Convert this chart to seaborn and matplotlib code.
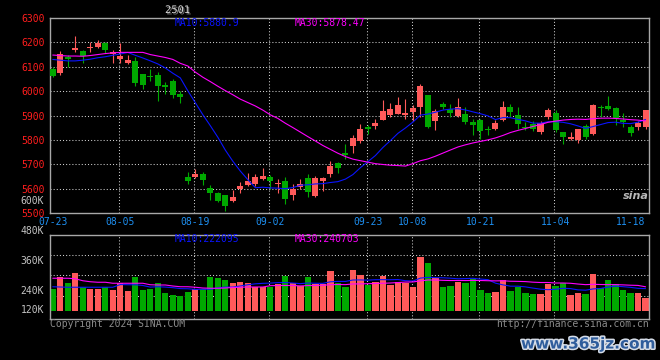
import numpy as np
import pandas as pd
import matplotlib
matplotlib.use("Agg")
import matplotlib.pyplot as plt
import matplotlib.patheffects as pe
import seaborn as sns

# daily bars, 07-23 .. 11-20 (80 trading days)
open_ = [6090, 6073, 6141, 6168, 6164, 6178, 6182, 6196, 6151, 6131,
         6114, 6123, 6070, 6063, 6066, 6025, 6041, 5990, 5647, 5647,
         5658, 5604, 5583, 5572, 5551, 5597, 5616, 5620, 5641, 5647,
         5618, 5630, 5572, 5606, 5645, 5569, 5630, 5658, 5705, 5746,
         5774, 5795, 5853, 5857, 5880, 5901, 5908, 5904, 5915, 5935,
         5983, 5878, 5946, 5925, 5898, 5905, 5874, 5883, 5846, 5846,
         5883, 5933, 5901, 5853, 5864, 5832, 5894, 5911, 5832, 5805,
         5798, 5857, 5826, 5933, 5939, 5931, 5880, 5853, 5853, 5851]
high = [6100, 6164, 6148, 6227, 6168, 6200, 6209, 6203, 6168, 6196,
        6148, 6141, 6070, 6090, 6079, 6038, 6049, 5999, 5668, 5682,
        5668, 5616, 5588, 5575, 5593, 5627, 5665, 5661, 5684, 5654,
        5638, 5647, 5620, 5638, 5661, 5653, 5647, 5712, 5709, 5782,
        5822, 5864, 5860, 5885, 5963, 5953, 5974, 5966, 5942, 6028,
        5983, 5925, 5956, 5946, 5970, 5935, 5887, 5887, 5856, 5880,
        5959, 5946, 5933, 5873, 5878, 5876, 5929, 5922, 5832, 5832,
        5846, 5867, 5949, 5942, 5979, 5935, 5912, 5863, 5876, 5924]
low = [6060, 6066, 6100, 6159, 6114, 6159, 6178, 6157, 6116, 6114,
       6111, 6020, 6008, 6041, 5960, 5990, 5970, 5952, 5617, 5645,
       5613, 5555, 5544, 5510, 5544, 5583, 5610, 5609, 5634, 5600,
       5581, 5535, 5555, 5597, 5565, 5566, 5590, 5647, 5664, 5720,
       5746, 5787, 5826, 5844, 5880, 5894, 5908, 5885, 5878, 5894,
       5850, 5839, 5925, 5894, 5894, 5864, 5822, 5805, 5819, 5839,
       5876, 5894, 5846, 5839, 5836, 5826, 5887, 5832, 5784, 5798,
       5789, 5805, 5822, 5894, 5922, 5860, 5853, 5816, 5839, 5843]
close = [6063, 6152, 6133, 6175, 6146, 6182, 6198, 6168, 6161, 6145,
         6127, 6034, 6024, 6057, 6020, 6015, 5983, 5976, 5631, 5658,
         5634, 5582, 5551, 5528, 5565, 5610, 5631, 5647, 5651, 5631,
         5624, 5558, 5600, 5620, 5586, 5645, 5643, 5693, 5686, 5736,
         5809, 5843, 5846, 5871, 5917, 5926, 5942, 5912, 5929, 6020,
         5853, 5919, 5933, 5911, 5935, 5874, 5863, 5836, 5839, 5871,
         5933, 5915, 5864, 5849, 5844, 5871, 5922, 5839, 5812, 5812,
         5844, 5812, 5942, 5929, 5926, 5888, 5874, 5828, 5871, 5922]
# volume in thousands
volume = [248, 297, 273, 313, 257, 248, 248, 257, 244, 273,
          240, 297, 244, 248, 273, 233, 224, 220, 237, 248,
          248, 297, 293, 284, 273, 277, 273, 257, 257, 257,
          267, 301, 273, 260, 297, 268, 268, 321, 271, 257,
          324, 304, 264, 277, 300, 264, 277, 273, 257, 377,
          353, 293, 257, 261, 277, 271, 288, 244, 233, 237,
          284, 241, 257, 233, 228, 228, 268, 260, 273, 224,
          233, 228, 308, 251, 284, 268, 244, 233, 233, 213]

# moving-average values before enough bars exist
ma10_lead = [6130, 6127, 6124, 6124, 6127, 6131, 6137, 6141, 6147]
ma30_lead = [6148, 6146, 6144, 6144, 6143, 6146, 6150, 6154, 6157, 6159,
             6159, 6159, 6159, 6150, 6144, 6138, 6130, 6114, 6103, 6078,
             6057, 6039, 6020, 6002, 5985, 5967, 5953, 5939, 5922]
vma10_lead = [257, 256, 255, 255, 255, 255, 255, 255, 255]
vma30_lead = [291, 291, 291, 289, 281, 277, 275, 275, 271, 271,
              271, 271, 271, 265, 264, 264, 260, 257, 257, 255,
              252, 251, 251, 252, 254, 255, 256, 256, 256]

tick_idx = [0, 9, 19, 29, 42, 48, 57, 67, 77]
tick_dates = ["07-23", "08-05", "08-19", "09-02", "09-23",
              "10-08", "10-21", "11-04", "11-18"]
price_ticks = [5500, 5600, 5700, 5800, 5900, 6000, 6100, 6200, 6300]
vol_labels = ["120K", "240K", "360K", "480K", "600K"]
vol_label_pos = [164, 240, 360, 480, 600]

sns.set_theme(style="dark", rc={"axes.facecolor": "black",
                                "figure.facecolor": "black"})
plt.rcParams["font.family"] = ["DejaVu Sans Mono"]

UP = "#ff5a5a"
DOWN = "#00a800"
BLUE = "#0a14ff"
MAG = "#ff00ff"
GRID = "#cfcfcf"
BORDER = "#a8a8a8"
DATE_C = "#1e8ff0"

o = np.array(open_, float)
c = np.array(close, float)
h = np.array(high, float)
l = np.array(low, float)
v = np.array(volume, float)
idx = np.arange(len(c))
colors = np.where(c >= o, UP, DOWN)

ma10 = pd.Series(c).rolling(10).mean().to_numpy()
ma10[:9] = ma10_lead
ma30 = pd.Series(c).rolling(30).mean().to_numpy()
ma30[:29] = ma30_lead
vma10 = pd.Series(v).rolling(10).mean().to_numpy()
vma10[:9] = vma10_lead
vma30 = pd.Series(v).rolling(30).mean().to_numpy()
vma30[:29] = vma30_lead

fig = plt.figure(figsize=(6.6, 3.6), dpi=100)
W, H = 660, 360
xlim = (-0.37, 79.46)
grid_idx = tick_idx[1:-1]
dotted = (0, (1, 2))

# ---- price panel
ax = fig.add_axes([50 / W, 1 - 213 / H, 599 / W, 195 / H])
ax.set_xlim(*xlim)
ax.set_ylim(5500, 6300)

for y in price_ticks[1:-1]:
    ax.axhline(y, color=GRID, lw=0.75, ls=dotted, zorder=0)
for x in grid_idx:
    ax.axvline(x - 0.15, color=GRID, lw=0.75, ls=dotted, zorder=0)

ax.vlines(idx, l, h, color=colors, lw=0.8, zorder=2)
body_lo = np.minimum(o, c)
body_h = np.maximum(np.abs(c - o), 4)
ax.bar(idx, body_h, bottom=body_lo, width=0.8, color=colors, lw=0, zorder=3)

sns.lineplot(x=idx, y=ma10, ax=ax, color=BLUE, lw=0.8, zorder=4)
sns.lineplot(x=idx, y=ma30, ax=ax, color=MAG, lw=0.8, zorder=4)

ax.set_yticks(price_ticks)
ax.set_yticklabels([str(t) for t in price_ticks])
ax.set_xticks(tick_idx)
ax.set_xticklabels(tick_dates)
ax.tick_params(axis="y", length=0, pad=4, labelcolor="#ff1e1e", labelsize=7)
ax.tick_params(axis="x", length=0, pad=3, labelcolor=DATE_C, labelsize=7)
ax.grid(False)
ax.set_xlabel("")
ax.set_ylabel("")
for s in ax.spines.values():
    s.set_visible(True)
    s.set_color(BORDER)
    s.set_linewidth(1)

# ---- volume panel
ax2 = fig.add_axes([50 / W, 1 - 319 / H, 599 / W, 84 / H])
ax2.set_xlim(*xlim)
ax2.set_ylim(128, 464)
for y in [220, 304, 384]:
    ax2.axhline(y, color=GRID, lw=0.75, ls=dotted, zorder=0)
for x in grid_idx:
    ax2.axvline(x - 0.15, color=GRID, lw=0.75, ls=dotted, zorder=0)

base = 160
ax2.bar(idx, v - base, bottom=base, width=0.83, color=colors, lw=0, zorder=2)
sns.lineplot(x=idx, y=vma10, ax=ax2, color=BLUE, lw=0.8, zorder=4)
sns.lineplot(x=idx, y=vma30, ax=ax2, color=MAG, lw=0.8, zorder=4)

ax2.set_xticks([])
ax2.set_yticks([])
ax2.grid(False)
ax2.set_xlabel("")
ax2.set_ylabel("")
for s in ax2.spines.values():
    s.set_visible(True)
    s.set_color(BORDER)
    s.set_linewidth(1)
for lab, pos in zip(vol_labels, vol_label_pos):
    ax2.text(-0.01, pos, lab, transform=ax2.get_yaxis_transform(),
             ha="right", va="center", color="#c4c4c4", fontsize=7,
             clip_on=False)

# ---- texts
fig.text(165 / W, 1 - 10 / H, "2501", color="#d0d0d0", fontsize=7.5,
         va="center", path_effects=[pe.withSimplePatchShadow(
             offset=(1, -1), shadow_rgbFace="#707070", alpha=1)])
fig.text(175 / W, 1 - 23 / H, "MA10:5880.9", color=BLUE, fontsize=7, va="center")
fig.text(295 / W, 1 - 23 / H, "MA30:5878.47", color=MAG, fontsize=7, va="center")
fig.text(175 / W, 1 - 239 / H, "MA10:222095", color=BLUE, fontsize=7, va="center")
fig.text(295 / W, 1 - 239 / H, "MA30:240703", color=MAG, fontsize=7, va="center")
fig.text(50 / W, 1 - 324 / H, "Copyright 2024 SINA.COM", color="#8c8c8c",
         fontsize=7, va="center")
fig.text(649 / W, 1 - 324 / H, "http://finance.sina.com.cn", color="#8c8c8c",
         fontsize=7, va="center", ha="right")
fig.text(636 / W, 1 - 196 / H, "sina", color="#b8b8b8", fontsize=8,
         style="italic", weight="bold", ha="center", va="center",
         family="DejaVu Sans")
fig.text(655 / W, 1 - 344 / H, "www.365jz.com", color="#2f5d9c", fontsize=11,
         weight="bold", ha="right", va="center", family="DejaVu Sans",
         path_effects=[pe.Stroke(linewidth=2.2, foreground="#d6dde8"),
                       pe.Normal()])

fig.savefig("out.png", dpi=100, facecolor="black")
